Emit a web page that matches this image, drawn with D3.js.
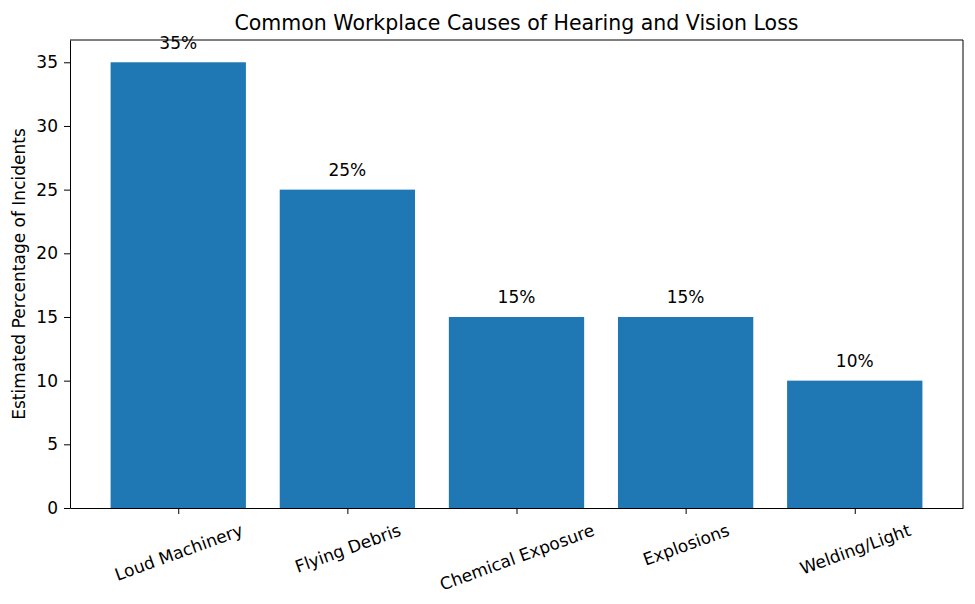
<!DOCTYPE html>
<html>
<head>
<meta charset="utf-8">
<script src="https://cdn.jsdelivr.net/npm/d3@7"></script>
<style>
  body { margin: 0; background: white; }
  text { font-family: "DejaVu Sans", sans-serif; fill: black; }
</style>
</head>
<body>
<svg width="975" height="604"></svg>
<script>
var causes = ["Loud Machinery", "Flying Debris", "Chemical Exposure", "Explosions", "Welding/Light"];
var percentages = [35, 25, 15, 15, 10];
var yTicks = [0, 5, 10, 15, 20, 25, 30, 35];

var svg = d3.select("svg");

var margin = { top: 40, right: 12, bottom: 96, left: 70 };
var w = 975 - margin.left - margin.right,
    h = 604 - margin.top - margin.bottom;

var fs = "17px";

var g = svg.append("g")
    .attr("transform", "translate(" + margin.left + "," + margin.top + ")");

// matplotlib style limits: bars of width 0.8, 5% margins
var xS = d3.scaleLinear()
    .domain([-0.64, causes.length - 1 + 0.64])
    .range([0, w]);

var yS = d3.scaleLinear()
    .domain([0, 35 * 1.05])
    .range([h, 0]);

g.selectAll("rect")
    .data(percentages)
    .enter()
    .append("rect")
    .attr("x", (d, i) => xS(i - 0.4))
    .attr("y", d => yS(d))
    .attr("width", xS(0.4) - xS(-0.4))
    .attr("height", d => h - yS(d))
    .attr("fill", "#1f77b4");

g.selectAll(".val")
    .data(percentages)
    .enter()
    .append("text")
    .attr("class", "val")
    .attr("x", (d, i) => xS(i))
    .attr("y", d => yS(d + 1) - 1)
    .attr("text-anchor", "middle")
    .style("font-size", fs)
    .text(d => d + "%");

// y axis
var yAxis = g.append("g")
    .call(d3.axisLeft(yS).tickValues(yTicks).tickSize(6).tickSizeOuter(0).tickPadding(6));
yAxis.selectAll("text").style("font-size", fs).style("font-family", "DejaVu Sans");

// x axis
var xAxis = g.append("g")
    .attr("transform", "translate(0," + h + ")")
    .call(d3.axisBottom(xS).tickValues(d3.range(causes.length)).tickSize(6).tickSizeOuter(0).tickFormat(""));

xAxis.selectAll(".tick").append("text")
    .attr("text-anchor", "middle")
    .attr("dominant-baseline", "central")
    .style("font-size", fs)
    .style("fill", "black")
    .text((d, i) => causes[i])
    .attr("transform", function() {
        var bw = this.getBBox().width, bh = 17 * 1.16;
        var rad = 20 * Math.PI / 180;
        var half = (bw * Math.sin(rad) + bh * Math.cos(rad)) / 2;
        return "translate(0," + (12 + half) + ") rotate(-20)";
    });

svg.selectAll(".domain").attr("stroke", "black");
svg.selectAll(".tick line").attr("stroke", "black");

// frame top and right
g.append("line").attr("x1", 0).attr("x2", w).attr("y1", 0).attr("y2", 0).attr("stroke", "black");
g.append("line").attr("x1", w).attr("x2", w).attr("y1", 0).attr("y2", h).attr("stroke", "black");

// title
svg.append("text")
    .attr("x", margin.left + w / 2)
    .attr("y", 30)
    .attr("text-anchor", "middle")
    .style("font-size", "20.5px")
    .text("Common Workplace Causes of Hearing and Vision Loss");

// y label
svg.append("text")
    .attr("transform", "translate(25," + (margin.top + h / 2) + ") rotate(-90)")
    .attr("text-anchor", "middle")
    .style("font-size", fs)
    .text("Estimated Percentage of Incidents");
</script>
</body>
</html>
